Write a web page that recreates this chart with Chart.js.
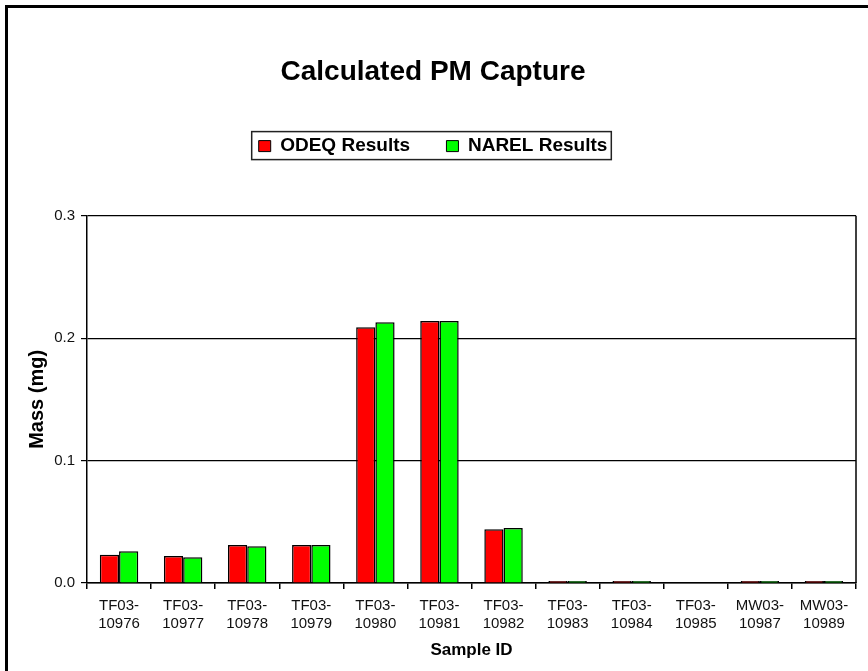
<!DOCTYPE html>
<html>
<head>
<meta charset="utf-8">
<script src="https://cdn.jsdelivr.net/npm/chart.js@4.4.0/dist/chart.umd.min.js"></script>
<style>html,body{margin:0;padding:0;background:#fff}</style>
</head>
<body>
<canvas id="pmChart" width="868" height="671"></canvas>
<script>
// sample ids and measured mass (mg)
const sampleIds=['TF03-10976','TF03-10977','TF03-10978','TF03-10979','TF03-10980','TF03-10981','TF03-10982','TF03-10983','TF03-10984','TF03-10985','MW03-10987','MW03-10989'];
const odeqMass=[0.023,0.022,0.031,0.031,0.209,0.214,0.044,0.001,0.001,null,0.001,0.001];
const narelMass=[0.026,0.021,0.030,0.031,0.213,0.214,0.045,0.001,0.001,null,0.001,0.001];
const seriesNames=['ODEQ Results','NAREL Results'];
const yMin=0,yMax=0.3,yStep=0.1;

const FONT='"Liberation Sans", Arial, sans-serif';
const labels=sampleIds.map(s=>{const i=s.indexOf('-');return [s.slice(0,i+1),s.slice(i+1)];});

const framePlugin={
  id:'frame',
  beforeDraw(c){const x=c.ctx;x.save();x.fillStyle='#fff';x.fillRect(0,0,c.width,c.height);
    x.strokeStyle='#000';x.lineWidth=3;x.beginPath();x.moveTo(6.5,c.height);x.lineTo(6.5,6.5);x.lineTo(c.width,6.5);x.stroke();x.restore();},
  afterDraw(c){const x=c.ctx,a=c.chartArea;x.save();
    x.strokeStyle='#000';x.lineWidth=1.5;x.beginPath();x.moveTo(a.right,a.top);x.lineTo(a.right,a.bottom);x.stroke();
    const hb=c.legend.legendHitBoxes;
    if(hb&&hb.length){const f=hb[0],l=hb[hb.length-1];
      x.strokeStyle='#222';x.lineWidth=1.5;
      x.strokeRect(f.left-7,f.top-5,(l.left+l.width)-(f.left-7)+4,f.height+9);}
    x.restore();}
};

new Chart(document.getElementById('pmChart'),{
  type:'bar',
  data:{labels,datasets:[
    {label:seriesNames[0],data:odeqMass,backgroundColor:'#ff0000',borderColor:'#000',borderWidth:1.5,minBarLength:2},
    {label:seriesNames[1],data:narelMass,backgroundColor:'#00ff00',borderColor:'#000',borderWidth:1.5,minBarLength:2}
  ]},
  options:{
    responsive:false,animation:false,
    layout:{padding:{left:10,right:12,top:0,bottom:10}},
    datasets:{bar:{categoryPercentage:0.6,barPercentage:1.0}},
    plugins:{
      title:{display:true,text:'Calculated PM Capture',color:'#000',font:{family:FONT,size:28,weight:'bold'},padding:{top:55,bottom:38}},
      subtitle:{display:true,text:'',weight:500,font:{size:1},padding:{top:0,bottom:49}},
      legend:{display:true,position:'top',
        labels:{color:'#000',font:{family:FONT,size:19,weight:'bold'},boxWidth:12,boxHeight:11,padding:10,
          generateLabels(chart){const items=Chart.defaults.plugins.legend.labels.generateLabels(chart);
            items.forEach((it,i)=>{it.lineWidth=1;it.strokeStyle='#000';if(i<items.length-1)it.text=it.text+'     ';});return items;}}},
      tooltip:{enabled:false}
    },
    scales:{
      x:{
        grid:{offset:true,drawOnChartArea:false,drawTicks:true,tickLength:6,color:'#000',lineWidth:1.5},
        border:{display:true,color:'#000',width:1.5},
        ticks:{color:'#111',font:{family:FONT,size:15},padding:8,maxRotation:0,autoSkip:false},
        title:{display:true,text:'Sample ID',color:'#000',font:{family:FONT,size:17,weight:'bold'},padding:{top:3,bottom:0}},
        afterFit(s){s.height=78;}
      },
      y:{
        min:yMin,max:yMax,
        grid:{color:'#000',lineWidth:1.2,tickLength:6},
        border:{display:true,color:'#000',width:1.5},
        ticks:{stepSize:yStep,color:'#111',font:{family:FONT,size:15},padding:6,callback:v=>Number(v).toFixed(1)},
        title:{display:true,text:'Mass (mg)',color:'#000',font:{family:FONT,size:20,weight:'bold'},padding:{top:15,bottom:0}},
        afterFit(s){s.width=77;}
      }
    }
  },
  plugins:[framePlugin]
});
</script>
</body>
</html>
